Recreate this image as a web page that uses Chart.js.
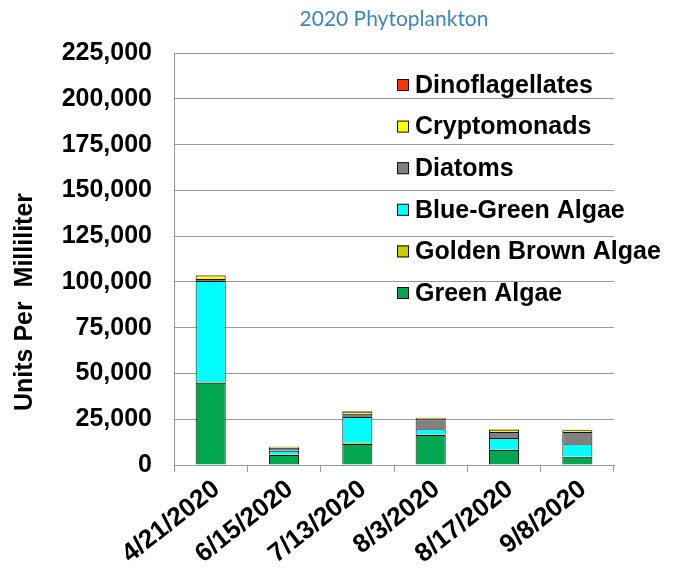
<!DOCTYPE html>
<html>
<head>
<meta charset="utf-8">
<script src="https://cdn.jsdelivr.net/npm/chart.js@4"></script>
<style>
  html, body { margin: 0; padding: 0; background: #fff; }
  #wrap { width: 678px; height: 576px; }
</style>
</head>
<body>
<div id="wrap"><canvas id="phytoChart" width="678" height="576"></canvas></div>
<script>
const categories = ['4/21/2020', '6/15/2020', '7/13/2020', '8/3/2020', '8/17/2020', '9/8/2020'];

// stacked bottom-up, values in units per milliliter
const greenAlgae = [45000, 5500, 11500, 16400, 8200, 4500];
const goldenBrownAlgae = [400, 200, 700, 200, 100, 100];
const blueGreenAlgae = [55200, 2100, 14000, 3000, 6400, 6800];
const diatoms = [1000, 1600, 1800, 5400, 3300, 6600];
const cryptomonads = [2000, 600, 1000, 800, 1200, 1000];
const dinoflagellates = [200, 100, 300, 200, 300, 200];

const yTicks = [0, 25000, 50000, 75000, 100000, 125000, 150000, 175000, 200000, 225000];

const boldFont = { family: 'Liberation Sans, Arial, sans-serif', size: 25, weight: 'bold' };

function series(label, values, color) {
    return {
        label: label,
        data: values,
        backgroundColor: color,
        borderColor: '#111',
        borderWidth: 1,
        barPercentage: 0.41,
        categoryPercentage: 1
    };
}

const data = {
    labels: categories,
    datasets: [
        series('Green Algae', greenAlgae, '#00A650'),
        series('Golden Brown Algae', goldenBrownAlgae, '#CCCC00'),
        series('Blue-Green Algae', blueGreenAlgae, '#00FFFF'),
        series('Diatoms', diatoms, '#808080'),
        series('Cryptomonads', cryptomonads, '#FFFF00'),
        series('Dinoflagellates', dinoflagellates, '#FF3300')
    ]
};

/* legend sits inside the plot and the y title is off-centre in the
   original, so both are drawn here instead of by the built-in plugins */
const extras = {
    id: 'extras',
    afterDraw(chart) {
        const ctx = chart.ctx;
        ctx.save();
        ctx.font = 'bold 25px "Liberation Sans", Arial, sans-serif';
        ctx.textBaseline = 'middle';
        const sets = chart.data.datasets.slice().reverse();
        sets.forEach((ds, i) => {
            const y = 85 + i * 41.6;
            ctx.fillStyle = ds.backgroundColor;
            ctx.fillRect(397, y - 6, 12, 12);
            ctx.strokeStyle = '#111';
            ctx.lineWidth = 1;
            ctx.strokeRect(397.5, y - 5.5, 11, 11);
            ctx.fillStyle = '#000';
            ctx.textAlign = 'left';
            ctx.fillText(ds.label, 415, y + 1);
        });

        ctx.translate(25, 302);
        ctx.rotate(-Math.PI / 2);
        ctx.textAlign = 'center';
        ctx.fillText('Units Per  Milliliter', 0, 0);
        ctx.restore();
    }
};

const config = {
    type: 'bar',
    data,
    options: {
        responsive: false,
        animation: false,
        layout: { padding: { left: 0, right: 64, top: 0, bottom: 0 } },
        scales: {
            x: {
                stacked: true,
                grid: { offset: true, drawOnChartArea: false, color: '#999', tickLength: 7 },
                border: { color: '#999' },
                ticks: {
                    font: { family: 'Liberation Sans, Arial, sans-serif', size: 26, weight: 'bold' },
                    color: '#000',
                    minRotation: 38,
                    maxRotation: 38,
                    padding: 2,
                    labelOffset: 6
                },
                afterFit(scale) { scale.height = 111; }
            },
            y: {
                stacked: true,
                min: 0,
                max: 225000,
                afterBuildTicks(scale) { scale.ticks = yTicks.map(v => ({ value: v })); },
                grid: { color: '#999', drawTicks: false },
                border: { color: '#999' },
                ticks: {
                    font: boldFont,
                    color: '#000',
                    padding: 22,
                    callback: v => v.toLocaleString('en-US')
                },
                afterFit(scale) { scale.width = 174; }
            }
        },
        plugins: {
            legend: { display: false },
            tooltip: { enabled: false },
            title: {
                display: true,
                fullSize: false,
                text: '2020 Phytoplankton',
                color: '#3D85BF',
                font: { family: 'Lato, sans-serif', size: 21, weight: 'normal' },
                padding: { top: 7, bottom: 21 }
            }
        }
    },
    plugins: [extras]
};

/* Generate the chart */
var phytoChart = new Chart(document.getElementById('phytoChart'), config);
</script>
</body>
</html>
